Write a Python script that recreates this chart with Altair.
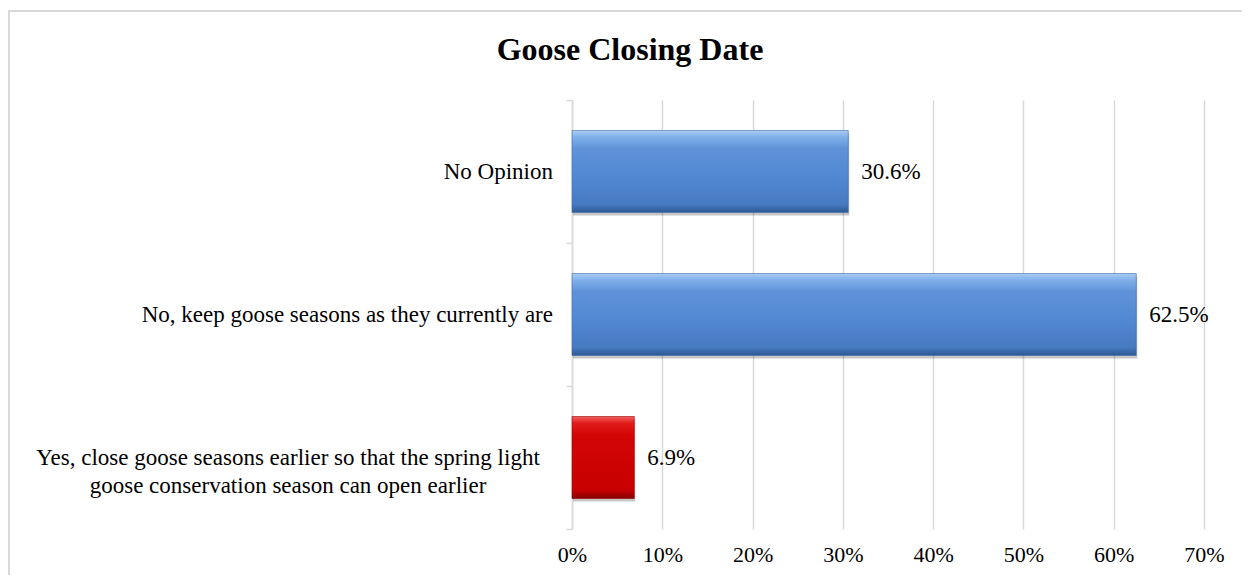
import altair as alt
import pandas as pd

title_text = ["Goose Closing Date"]
categories = [
    "No Opinion",
    "No, keep goose seasons as they currently are",
    "Yes, close goose seasons earlier so that the spring light goose conservation season can open earlier",
]
display_labels = [
    "No Opinion",
    "No, keep goose seasons as they currently are",
    "Yes, close goose seasons earlier so that the spring light\ngoose conservation season can open earlier",
]
values = [30.6, 62.5, 6.9]
kinds = ["blue", "blue", "red"]
label_align = ["right", "right", "center"]
x_ticks = [0, 10, 20, 30, 40, 50, 60, 70]

df = pd.DataFrame({
    "category": categories,
    "display": display_labels,
    "value": values,
    "kind": kinds,
    "align": label_align,
})

FONT = "Liberation Serif"
W, H = 632, 429

y_enc = alt.Y("category:N", sort=categories, title=None,
              scale=alt.Scale(paddingInner=0, paddingOuter=0),
              axis=alt.Axis(labels=False, domain=True, domainColor="#d9d9d9",
                            domainWidth=1.5, ticks=True, tickColor="#d9d9d9",
                            tickWidth=1.5, tickSize=6, tickBand="extent", grid=False))
x_enc = alt.X("value:Q", title=None,
              scale=alt.Scale(domain=[0, 70], nice=False),
              axis=alt.Axis(values=x_ticks, labelExpr="datum.value + '%'",
                            domain=False, ticks=False, grid=True,
                            gridColor="#d9d9d9", gridWidth=1.5,
                            labelFont=FONT, labelFontSize=22, labelColor="#000000",
                            labelPadding=15, labelFlush=False))

base = alt.Chart(df)

blue_grad = alt.Gradient(gradient="linear", x1=0, x2=0, y1=0, y2=1, stops=[
    alt.GradientStop(offset=0, color="#aacdf5"),
    alt.GradientStop(offset=0.08, color="#80b0ea"),
    alt.GradientStop(offset=0.22, color="#5e93d9"),
    alt.GradientStop(offset=0.6, color="#5087d0"),
    alt.GradientStop(offset=0.9, color="#467ac1"),
    alt.GradientStop(offset=1, color="#2d5994"),
])
red_grad = alt.Gradient(gradient="linear", x1=0, x2=0, y1=0, y2=1, stops=[
    alt.GradientStop(offset=0, color="#f06060"),
    alt.GradientStop(offset=0.08, color="#e21c1c"),
    alt.GradientStop(offset=0.22, color="#d30606"),
    alt.GradientStop(offset=0.9, color="#c70000"),
    alt.GradientStop(offset=1, color="#850000"),
])

shadow = base.mark_bar(size=82, color="#000000", opacity=0.22, yOffset=3, xOffset=1).encode(
    x=x_enc, y=y_enc)
blue_bars = base.transform_filter("datum.kind == 'blue'").mark_bar(
    size=82, color=blue_grad, stroke="#3d6cad", strokeWidth=0.6).encode(x=x_enc, y=y_enc)
red_bars = base.transform_filter("datum.kind == 'red'").mark_bar(
    size=82, color=red_grad, stroke="#9a0000", strokeWidth=0.6).encode(x=x_enc, y=y_enc)

value_labels = base.transform_calculate(
    lbl="format(datum.value, '.1f') + '%'"
).mark_text(align="left", baseline="middle", dx=13, font=FONT, fontSize=23,
            color="#000000").encode(x=x_enc, y=y_enc, text="lbl:N")

cat_right = base.transform_filter("datum.align == 'right'").mark_text(
    align="right", baseline="middle", font=FONT, fontSize=23, color="#000000",
    lineBreak="\n").encode(x=alt.value(-19), y=y_enc, text="display:N")
cat_center = base.transform_filter("datum.align == 'center'").mark_text(
    align="center", baseline="middle", font=FONT, fontSize=23, color="#000000",
    lineBreak="\n", lineHeight=28).encode(x=alt.value(-284), y=y_enc, text="display:N")

title_df = pd.DataFrame({"t": title_text})
title = alt.Chart(title_df).mark_text(
    align="center", baseline="alphabetic", font=FONT, fontSize=32,
    fontWeight="bold", color="#000000").encode(
    x=alt.value(58), y=alt.value(-40), text="t:N")

border = alt.Chart(title_df).mark_rect(
    fillOpacity=0, fill="#ffffff", stroke="#d9d9d9", strokeWidth=2).encode(
    x=alt.value(-563), x2=alt.value(W + 200), y=alt.value(-89), y2=alt.value(H + 200))

chart = alt.layer(border, shadow, blue_bars, red_bars, value_labels,
                  cat_right, cat_center, title).properties(
    width=W, height=H,
    autosize=alt.AutoSizeParams(type="none"),
    padding={"left": 564, "top": 92, "right": 38, "bottom": 46},
    background="#ffffff",
).configure_view(stroke=None)

chart.save("out.html", embed_options={"renderer": "svg", "actions": False})
